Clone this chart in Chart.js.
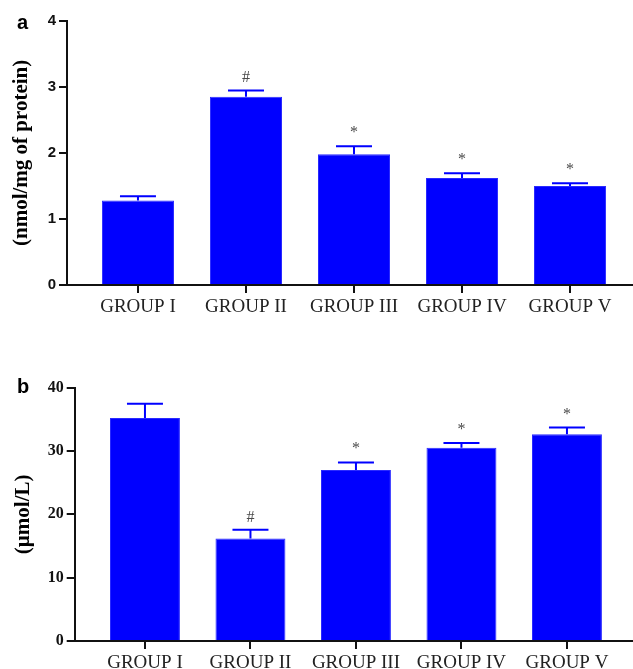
<!DOCTYPE html>
<html>
<head>
<meta charset="utf-8">
<script src="https://cdn.jsdelivr.net/npm/chart.js@4/dist/chart.umd.min.js"></script>
<style>
  html, body { margin: 0; padding: 0; background: #ffffff; }
  #wrap { position: relative; width: 633px; height: 669px; }
  .panel { position: absolute; left: 0; }
  canvas { display: block; }
</style>
</head>
<body>
<div id="wrap">
  <div class="panel" style="top:0px"><canvas id="chartA" width="633" height="330"></canvas></div>
  <div class="panel" style="top:330px"><canvas id="chartB" width="633" height="339"></canvas></div>
</div>
<script>
// Group names shared by both panels
const groups = ['GROUP I', 'GROUP II', 'GROUP III', 'GROUP IV', 'GROUP V'];

// Panel a: nmol/mg of protein
const panelAValues = [1.28, 2.85, 1.98, 1.62, 1.50];
const panelAErrors = [0.065, 0.095, 0.12, 0.07, 0.04];
const panelAMarks  = ['', '#', '*', '*', '*'];
const panelATicks  = [0, 1, 2, 3, 4];

// Panel b: µmol/L
const panelBValues = [35.2, 16.2, 27.0, 30.5, 32.65];
const panelBErrors = [2.25, 1.35, 1.2, 0.75, 1.05];
const panelBMarks  = ['', '#', '*', '*', '*'];
const panelBTicks  = [0, 10, 20, 30, 40];

const BAR_BLUE = '#0000FF';
const AXIS_INK = '#111111';

// Upper error whiskers with a cap, plus the significance mark above each cap
const errorBarPlugin = {
  id: 'errorBars',
  afterDatasetsDraw(chart, args, opts) {
    const { ctx } = chart;
    const xs = chart.scales.x, ys = chart.scales.y;
    ctx.save();
    ctx.strokeStyle = BAR_BLUE;
    ctx.lineWidth = 2;
    opts.values.forEach((v, i) => {
      const x = xs.getPixelForValue(i);
      const yBar = ys.getPixelForValue(v);
      const yCap = ys.getPixelForValue(v + opts.errors[i]);
      ctx.beginPath();
      ctx.moveTo(x, yBar);
      ctx.lineTo(x, yCap);
      ctx.moveTo(x - opts.capHalf, yCap);
      ctx.lineTo(x + opts.capHalf, yCap);
      ctx.stroke();
      const mark = opts.marks[i];
      if (mark) {
        ctx.fillStyle = '#4a4a4a';
        ctx.font = '16px "Liberation Serif"';
        ctx.textAlign = 'center';
        ctx.textBaseline = 'alphabetic';
        ctx.fillText(mark, x, yCap - (mark === '*' ? 9 : 8));
      }
    });
    ctx.restore();
  }
};

// Panel letter in the top-left corner
const panelLetterPlugin = {
  id: 'panelLetter',
  afterDraw(chart, args, opts) {
    const { ctx } = chart;
    ctx.save();
    ctx.fillStyle = '#000000';
    ctx.font = 'bold 20px "Liberation Sans"';
    ctx.textAlign = 'left';
    ctx.textBaseline = 'alphabetic';
    ctx.fillText(opts.text, opts.x, opts.y);
    ctx.restore();
  }
};

function buildPanel(canvasId, cfg) {
  return new Chart(document.getElementById(canvasId), {
    type: 'bar',
    data: {
      datasets: [{
        data: groups.map((g, i) => ({ x: i, y: cfg.values[i] })),
        backgroundColor: BAR_BLUE,
        borderColor: '#2a2aff',
        borderWidth: 1,
        barPercentage: cfg.barRatio,
        categoryPercentage: 1
      }]
    },
    options: {
      responsive: false,
      animation: false,
      events: [],
      layout: { padding: { top: cfg.padTop, left: 0, right: 0, bottom: 0 } },
      plugins: {
        legend: { display: false },
        tooltip: { enabled: false },
        errorBars: { values: cfg.values, errors: cfg.errors, marks: cfg.marks, capHalf: 18 },
        panelLetter: { text: cfg.letter, x: 17, y: cfg.letterY }
      },
      scales: {
        x: {
          type: 'linear',
          min: cfg.xMin,
          max: cfg.xMax,
          offset: false,
          afterBuildTicks(scale) { scale.ticks = groups.map((g, i) => ({ value: i })); },
          afterFit(scale) { scale.height = cfg.xAxisHeight; },
          ticks: {
            callback: (v) => groups[v],
            autoSkip: false,
            maxRotation: 0,
            padding: 3,
            color: '#222222',
            font: { family: 'Liberation Serif', size: 19 }
          },
          grid: { offset: false, drawOnChartArea: false, drawTicks: true, tickLength: 8, color: AXIS_INK, lineWidth: 2 },
          border: { display: true, color: AXIS_INK, width: 2 }
        },
        y: {
          min: 0,
          max: cfg.ticks[cfg.ticks.length - 1],
          afterBuildTicks(scale) { scale.ticks = cfg.ticks.map(v => ({ value: v })); },
          afterFit(scale) { scale.width = cfg.yAxisWidth; },
          ticks: {
            padding: 3,
            color: AXIS_INK,
            font: cfg.tickFont
          },
          grid: { drawOnChartArea: false, drawTicks: true, tickLength: 8, color: AXIS_INK, lineWidth: 2 },
          border: { display: true, color: AXIS_INK, width: 2 },
          title: {
            display: true,
            text: cfg.yTitle,
            color: '#000000',
            padding: { top: cfg.titlePad, bottom: 0 },
            font: { family: 'Liberation Serif', weight: 'bold', size: 21 }
          }
        }
      }
    },
    plugins: [errorBarPlugin, panelLetterPlugin]
  });
}

buildPanel('chartA', {
  values: panelAValues, errors: panelAErrors, marks: panelAMarks, ticks: panelATicks,
  yTitle: '(nmol/mg of protein)', letter: 'a', letterY: 28.5,
  padTop: 20.7, xAxisHeight: 45, yAxisWidth: 67, titlePad: 9,
  xMin: -0.657, xMax: 4.583, barRatio: 0.667,
  tickFont: { family: 'Liberation Sans', weight: 'bold', size: 15 }
});

buildPanel('chartB', {
  values: panelBValues, errors: panelBErrors, marks: panelBMarks, ticks: panelBTicks,
  yTitle: '(µmol/L)', letter: 'b', letterY: 62.7,
  padTop: 57.7, xAxisHeight: 28, yAxisWidth: 74.7, titlePad: 11,
  xMin: -0.666, xMax: 4.626, barRatio: 0.663,
  tickFont: { family: 'Liberation Serif', weight: 'bold', size: 16 }
});
</script>
</body>
</html>
